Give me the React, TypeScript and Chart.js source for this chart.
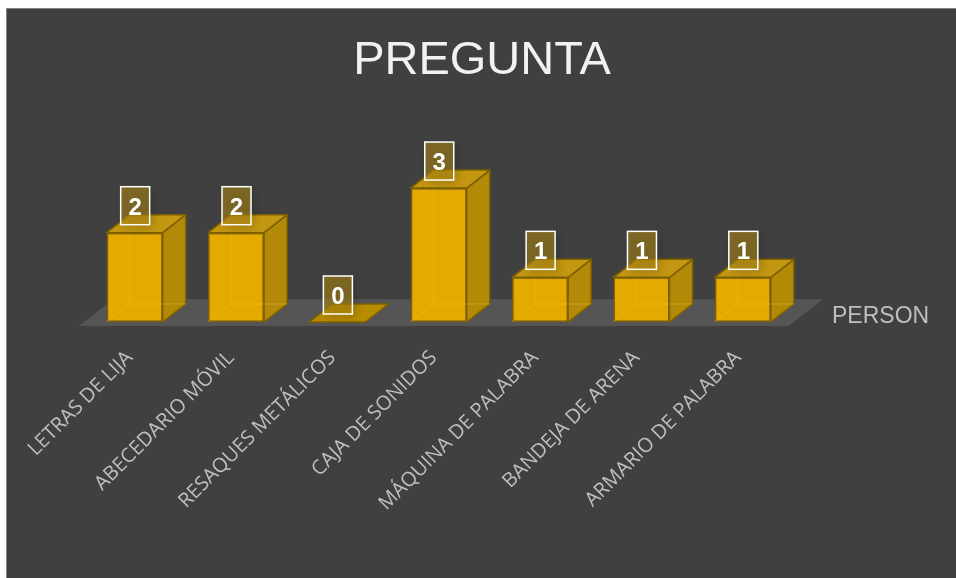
import React, { useEffect, useRef } from "react";
import { Chart, registerables } from "chart.js";

Chart.register(...registerables);

const categories = [
  "LETRAS DE LIJA",
  "ABECEDARIO MÓVIL",
  "RESAQUES METÁLICOS",
  "CAJA DE SONIDOS",
  "MÁQUINA DE PALABRA",
  "BANDEJA DE ARENA",
  "ARMARIO DE PALABRA",
];
const seriesName = "PERSON";
const personValues = [2, 2, 0, 3, 1, 1, 1];
const chartTitle = "PREGUNTA";

const W = 956;
const H = 578;
const DX = 23;
const DY = -18;

const threeD = {
  id: "threeD",
  beforeDraw(chart: any) {
    const ctx = chart.ctx;
    ctx.save();
    ctx.fillStyle = "#404040";
    ctx.fillRect(7, 8, W - 7, H - 8);
    ctx.strokeStyle = "#858585";
    ctx.lineWidth = 1;
    ctx.strokeRect(6.5, 8.5, W, H);
    ctx.restore();
  },
  beforeDatasetsDraw(chart: any) {
    const ctx = chart.ctx;
    const area = chart.chartArea;
    const meta = chart.getDatasetMeta(0);
    const base = meta.data[0].base;
    // floor
    const fy = base + 4;
    const fx = -5.1;
    const bdx = 34.7;
    const bdy = -26.7;
    ctx.save();
    ctx.fillStyle = "#555555";
    ctx.beginPath();
    ctx.moveTo(area.left + fx, fy);
    ctx.lineTo(area.right + fx, fy);
    ctx.lineTo(area.right + fx + bdx, fy + bdy);
    ctx.lineTo(area.left + fx + bdx, fy + bdy);
    ctx.closePath();
    ctx.fill();
    // side + top faces
    ctx.lineJoin = "round";
    ctx.lineWidth = 1.5;
    ctx.strokeStyle = "#7F6000";
    meta.data.forEach((bar: any) => {
      const l = bar.x - bar.width / 2;
      const r = bar.x + bar.width / 2;
      const t = bar.y;
      const b = bar.base;
      if (b - t > 0.5) {
        ctx.fillStyle = "#B38908";
        ctx.beginPath();
        ctx.moveTo(r, t);
        ctx.lineTo(r + DX, t + DY);
        ctx.lineTo(r + DX, b + DY);
        ctx.lineTo(r, b);
        ctx.closePath();
        ctx.fill();
        ctx.stroke();
      }
      ctx.fillStyle = b - t > 0.5 ? "#C39712" : "#B88C00";
      ctx.beginPath();
      ctx.moveTo(l, t);
      ctx.lineTo(l + DX, t + DY);
      ctx.lineTo(r + DX, t + DY);
      ctx.lineTo(r, t);
      ctx.closePath();
      ctx.fill();
      ctx.stroke();
    });
    ctx.restore();
  },
  afterDatasetsDraw(chart: any) {
    const ctx = chart.ctx;
    const meta = chart.getDatasetMeta(0);
    const vals = chart.data.datasets[0].data;
    ctx.save();
    // faint hidden edges
    ctx.strokeStyle = "rgba(255,200,40,0.35)";
    ctx.lineWidth = 1;
    meta.data.forEach((bar: any) => {
      const l = bar.x - bar.width / 2;
      const r = bar.x + bar.width / 2;
      const t = bar.y;
      const b = bar.base;
      if (b - t > 0.5) {
        ctx.beginPath();
        ctx.moveTo(l, b);
        ctx.lineTo(l + DX, b + DY);
        ctx.lineTo(r + DX, b + DY);
        ctx.moveTo(l + DX, b + DY);
        ctx.lineTo(l + DX, Math.max(t + DY, t + 1));
        ctx.stroke();
      }
    });
    // labels
    meta.data.forEach((bar: any, i: number) => {
      const bw = 29;
      const bh = 38;
      const bx = bar.x - bw / 2 + 0.5;
      const by = bar.y - 8 - bh;
      ctx.save();
      ctx.shadowColor = "rgba(0,0,0,0.35)";
      ctx.shadowBlur = 10;
      ctx.shadowOffsetX = 3;
      ctx.shadowOffsetY = 3;
      ctx.fillStyle = "rgba(180,140,20,0.55)";
      ctx.fillRect(bx, by, bw, bh);
      ctx.restore();
      ctx.strokeStyle = "#ffffff";
      ctx.lineWidth = 1.5;
      ctx.strokeRect(bx, by, bw, bh);
      ctx.fillStyle = "#ffffff";
      ctx.font = "bold 24px 'Liberation Sans', Arial, sans-serif";
      ctx.textAlign = "center";
      ctx.textBaseline = "alphabetic";
      ctx.fillText(String(vals[i]), bx + bw / 2, by + bh / 2 + 8.8);
    });
    // series (depth axis) label
    ctx.fillStyle = "#bfbfbf";
    ctx.font = "23px 'Liberation Sans', Arial, sans-serif";
    ctx.textAlign = "left";
    ctx.textBaseline = "alphabetic";
    ctx.fillText(chart.data.datasets[0].label, 832, 322.7);
    ctx.restore();
  },
};

export default function App() {
  const ref = useRef<HTMLCanvasElement | null>(null);
  useEffect(() => {
    if (!ref.current) return;
    const chart = new Chart(ref.current, {
      type: "bar",
      data: {
        labels: categories,
        datasets: [
          {
            label: seriesName,
            data: personValues,
            backgroundColor: "#E4AA00",
            borderColor: "#7F6000",
            borderWidth: 1.5,
            borderSkipped: false,
            barPercentage: 0.553,
            categoryPercentage: 1,
          },
        ],
      },
      options: {
        responsive: false,
        animation: false,
        devicePixelRatio: 1,
        layout: { padding: { left: 8, right: 0, top: 8, bottom: 0 } },
        plugins: {
          legend: { display: false },
          tooltip: { enabled: false },
          title: {
            display: true,
            text: chartTitle,
            color: "#f2f2f2",
            font: { family: "'Liberation Sans', Arial, sans-serif", size: 47, weight: "normal", lineHeight: 1.2 },
            padding: { top: 25, bottom: 54 },
          },
        },
        scales: {
          y: {
            display: true,
            min: 0,
            max: 4,
            position: "left",
            grid: { display: false, drawTicks: false },
            border: { display: false },
            ticks: { display: false },
            afterFit: (axis: any) => {
              axis.width = 84 - 8;
            },
          },
          yRight: {
            type: "linear",
            axis: "y",
            display: true,
            position: "right",
            min: 0,
            max: 4,
            grid: { display: false, drawTicks: false },
            border: { display: false },
            ticks: { display: false },
            afterFit: (axis: any) => {
              axis.width = W - 793.5;
            },
          },
          x: {
            grid: { display: false, drawTicks: false },
            border: { display: false },
            ticks: {
              color: "#bfbfbf",
              font: { family: "'Open Sans', sans-serif", size: 20 },
              minRotation: 45,
              maxRotation: 45,
              autoSkip: false,
              padding: 24,
              labelOffset: -5,
            },
            afterFit: (axis: any) => {
              axis.height = H - 322;
            },
          },
        },
      },
      plugins: [threeD],
    } as any);
    return () => chart.destroy();
  }, []);
  return (
    <div style={{ position: "fixed", left: 0, top: 0, width: W, height: H }}>
      <canvas ref={ref} width={W} height={H} style={{ display: "block" }} />
    </div>
  );
}
